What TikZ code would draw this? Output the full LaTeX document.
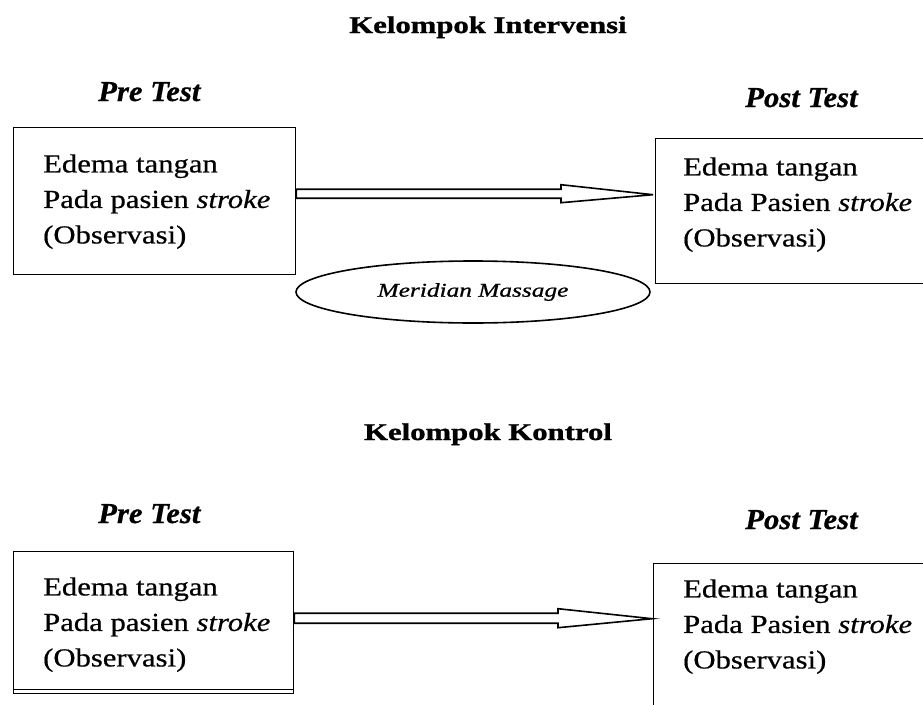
\documentclass[tikz,border=0pt]{standalone}
\usepackage{fontspec}
\setmainfont{Liberation Serif}
\newfontfamily\boxfont{Liberation Serif}[FakeStretch=1.18,FakeBold=0.6]
\newfontfamily\titlefont{Liberation Serif}[FakeStretch=1.28,FakeBold=1.2]
\newfontfamily\testfont{Liberation Serif}[FakeStretch=1.06,FakeBold=0.6]
\newfontfamily\ellfont{Liberation Serif}[FakeStretch=1.3,FakeBold=0.8]
\usetikzlibrary{shapes.geometric,calc}
\begin{document}
\begin{tikzpicture}[x=1pt,y=-1pt,
  boxr/.style={draw,line width=1.4pt,inner sep=0pt,anchor=north west},
  boxtext/.style={anchor=north west,inner sep=0pt,align=left,font=\boxfont\fontsize{26}{35.5}\selectfont},
  grouptitle/.style={anchor=base,inner sep=0pt,font=\titlefont\bfseries\fontsize{24}{28}\selectfont},
  testlabel/.style={anchor=base west,inner sep=0pt,font=\testfont\bfseries\itshape\fontsize{29}{34}\selectfont},
  hollow/.style={draw,line width=1.6pt,fill=white,line join=miter},
  oval/.style={ellipse,draw,line width=1.6pt,minimum width=354pt,minimum height=62pt,inner sep=0pt,font=\ellfont\itshape\fontsize{19.5}{24}\selectfont}]
\clip (0,0) rectangle (923,704);
\fill[white] (0,0) rectangle (923,704);

% ---------- Kelompok Intervensi ----------
\node[grouptitle] (t1) at (488,33) {Kelompok Intervensi};
\node[testlabel] (pre1lab) at (98,101) {Pre Test};
\node[testlabel] (post1lab) at (745,107) {Post Test};

\node[boxr,minimum width=282pt,minimum height=147pt] (pre1) at (13,127) {};
\node[boxtext] (pre1txt) at (43,154.2) {Edema tangan\\Pada pasien \textit{stroke}\\(Observasi)};

\node[boxr,minimum width=280pt,minimum height=145pt] (post1) at (655,138) {};
\node[boxtext] (post1txt) at (683,157.2) {Edema tangan\\Pada Pasien \textit{stroke}\\(Observasi)};

\path (pre1.east) ++(0,-7.5) coordinate (a1s);
\path (post1.west |- a1s) ++(-2,1) coordinate (a1e);
\draw[hollow] ($(a1s)+(0,-4.5)$) -- ($(a1e)+(-92,-5.5)$) -- ($(a1e)+(-92,-10)$) -- (a1e)
  -- ($(a1e)+(-92,8)$) -- ($(a1e)+(-92,3.5)$) -- ($(a1s)+(0,4.5)$) -- cycle;

\node[oval] (mm) at (473,292) {Meridian Massage};

% ---------- Kelompok Kontrol ----------
\node[grouptitle] (t2) at (488,440) {Kelompok Kontrol};
\node[testlabel] (pre2lab) at (98,523) {Pre Test};
\node[testlabel] (post2lab) at (745,529) {Post Test};

\node[boxr,minimum width=280pt,minimum height=142pt] (pre2) at (13,551) {};
\draw[line width=1.4pt] ($(pre2.south west)+(0,-5)$) -- ($(pre2.south east)+(0,-5)$);
\node[boxtext] (pre2txt) at (43,577.2) {Edema tangan\\Pada pasien \textit{stroke}\\(Observasi)};

\node[boxr,minimum width=280pt,minimum height=170pt] (post2) at (653,563) {};
\node[boxtext] (post2txt) at (683,579.2) {Edema tangan\\Pada Pasien \textit{stroke}\\(Observasi)};

\path (pre2.east) ++(0,-4.5) coordinate (a2s);
\path (post2.west |- a2s) ++(-1,0.5) coordinate (a2e);
\draw[hollow] ($(a2s)+(0,-5)$) -- ($(a2e)+(-94,-5.5)$) -- ($(a2e)+(-94,-10)$) -- (a2e)
  -- ($(a2e)+(-94,9)$) -- ($(a2e)+(-94,4.5)$) -- ($(a2s)+(0,5)$) -- cycle;
\end{tikzpicture}
\end{document}
